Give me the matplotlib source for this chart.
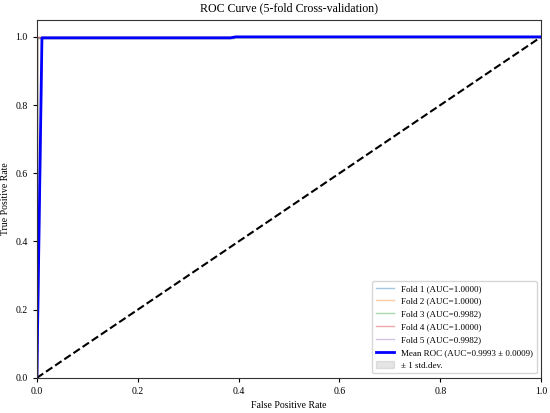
import matplotlib
matplotlib.use("Agg")
import matplotlib.pyplot as plt
import numpy as np

plt.rcParams['font.family'] = ['Liberation Serif', 'DejaVu Serif']

fold_labels = ["Fold 1 (AUC=1.0000)", "Fold 2 (AUC=1.0000)", "Fold 3 (AUC=0.9982)",
               "Fold 4 (AUC=1.0000)", "Fold 5 (AUC=0.9982)"]
fold_fpr = [[0.0, 0.0, 1.0],
            [0.0, 0.0, 1.0],
            [0.0, 0.0, 0.39, 0.39, 1.0],
            [0.0, 0.0, 1.0],
            [0.0, 0.0, 0.39, 0.39, 1.0]]
fold_tpr = [[0.0, 1.0, 1.0],
            [0.0, 1.0, 1.0],
            [0.0, 0.9954, 0.9954, 1.0, 1.0],
            [0.0, 1.0, 1.0],
            [0.0, 0.9954, 0.9954, 1.0, 1.0]]
fold_colors = ["#1f77b4", "#ff7f0e", "#2ca02c", "#d62728", "#9467bd"]

mean_fpr = [0.0, 0.0101, 0.3838, 0.3939, 1.0]
mean_tpr = [0.0, 0.9972, 0.9972, 1.0, 1.0]
std_tpr = [0.0, 0.0023, 0.0023, 0.0, 0.0]
mean_label = "Mean ROC (AUC=0.9993 ± 0.0009)"
std_label = "± 1 std.dev."

fig = plt.figure(figsize=(5.5, 4.13), dpi=100)
ax = fig.add_axes([0.067, 0.085, 0.917, 0.867])

for f, t, c, l in zip(fold_fpr, fold_tpr, fold_colors, fold_labels):
    ax.plot(f, t, color=c, lw=1, alpha=0.4, label=l)

ax.plot([0, 1], [0, 1], linestyle='--', color='black', lw=1.5)

mt = np.array(mean_tpr)
st = np.array(std_tpr)
ax.plot(mean_fpr, mean_tpr, color='blue', lw=2, label=mean_label)
ax.fill_between(mean_fpr, np.maximum(mt - st, 0), np.minimum(mt + st, 1),
                color='grey', alpha=0.2, label=std_label)

ax.set_xlim(0, 1)
ax.set_ylim(0, 1.05)
ax.set_xticks([0, 0.2, 0.4, 0.6, 0.8, 1.0])
ax.set_yticks([0, 0.2, 0.4, 0.6, 0.8, 1.0])
ax.tick_params(labelsize=7, length=3)
for s in ax.spines.values():
    s.set_color('#333333')
ax.set_xlabel("False Positive Rate", fontsize=7)
ax.set_ylabel("True Positive Rate", fontsize=7)
ax.set_title("ROC Curve (5-fold Cross-validation)", fontsize=8.6)
ax.legend(loc='lower right', fontsize=6.5)

fig.savefig("out.png", dpi=100)
